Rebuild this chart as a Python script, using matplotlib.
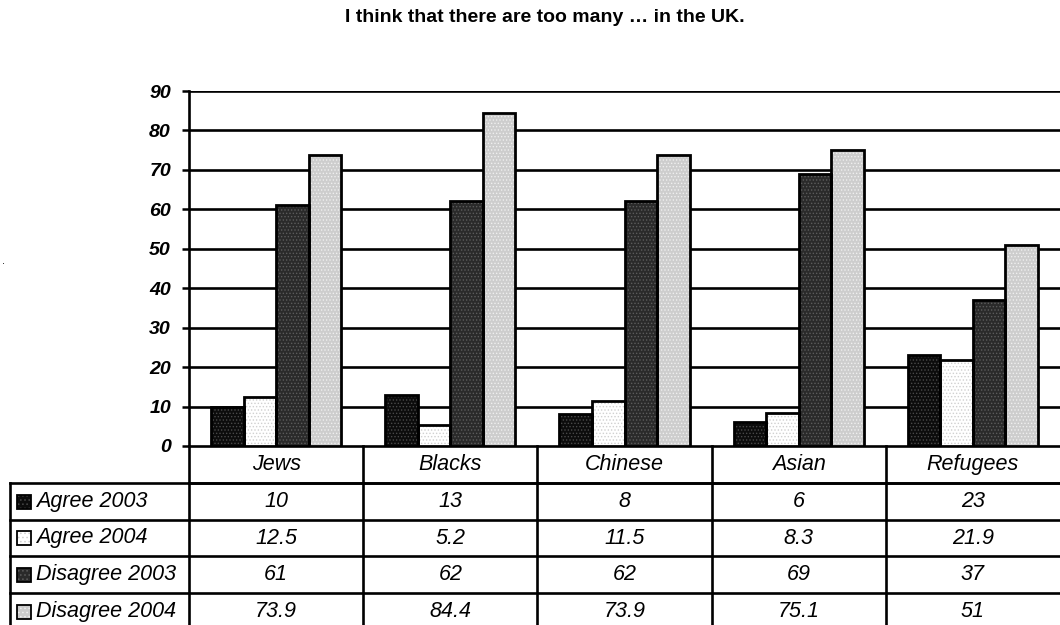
import matplotlib
matplotlib.use("Agg")
import matplotlib.pyplot as plt
from matplotlib.patches import Rectangle
import numpy as np

categories = ["Jews", "Blacks", "Chinese", "Asian", "Refugees"]
series_names = ["Agree 2003", "Agree 2004", "Disagree 2003", "Disagree 2004"]
agree_2003 = [10, 13, 8, 6, 23]
agree_2004 = [12.5, 5.2, 11.5, 8.3, 21.9]
disagree_2003 = [61, 62, 62, 69, 37]
disagree_2004 = [73.9, 84.4, 73.9, 75.1, 51]
y_ticks = [0, 10, 20, 30, 40, 50, 60, 70, 80, 90]

series_values = [agree_2003, agree_2004, disagree_2003, disagree_2004]
# fill colour and dot colour for each screened pattern
face_colors = ["#0c0c0c", "#ffffff", "#2a2a2a", "#cdcdcd"]
dot_colors = ["#4a4a4a", "#d0d0d0", "#5c5c5c", "#efefef"]

plt.rcParams["font.family"] = ["Liberation Sans", "DejaVu Sans"]
plt.rcParams["hatch.linewidth"] = 0.6

W, H = 1060, 625
fig = plt.figure(figsize=(W / 100, H / 100), dpi=100)

# pixel layout of the plotting area
left_px, right_px, top_px, bottom_px = 189, 1060, 91, 446
ax = fig.add_axes([left_px / W, 1 - bottom_px / H,
                   (right_px - left_px) / W, (bottom_px - top_px) / H])

x = np.arange(len(categories))
bw = 0.187
offsets = [-1.5, -0.5, 0.5, 1.5]
for vals, off, fc, dc in zip(series_values, offsets, face_colors, dot_colors):
    ax.bar(x + off * bw, vals, bw, color=fc, edgecolor=dc, hatch=".....",
           linewidth=0, zorder=3)
    ax.bar(x + off * bw, vals, bw, fill=False, edgecolor="black",
           linewidth=2.0, zorder=4)

ax.set_xlim(-0.5, len(categories) - 0.5)
ax.set_ylim(0, 90)
ax.set_yticks(y_ticks)
ax.set_yticklabels([str(t) for t in y_ticks], fontsize=14,
                   fontweight="bold", fontstyle="italic")
ax.set_xticks([])
ax.tick_params(axis="y", length=5, width=1.8, pad=8)
for t in y_ticks[1:]:
    ax.axhline(t, color="black", linewidth=1.9, zorder=2)
ax.spines["right"].set_visible(False)
ax.spines["top"].set_visible(False)
ax.spines["left"].set_linewidth(1.9)
ax.spines["bottom"].set_linewidth(1.9)

fig.text(545 / W, 1 - 18 / H, "I think that there are too many \u2026 in the UK.",
         ha="center", va="center", fontsize=14, fontweight="bold")
fig.text(2 / W, 1 - 266 / H, ".", fontsize=8, ha="left", va="bottom")

# data table under the chart, laid out in figure pixels
tab = fig.add_axes([0, 0, 1, 1])
tab.set_xlim(0, W)
tab.set_ylim(H, 0)
tab.axis("off")

col_w = (right_px - left_px) / len(categories)
row_tops = [446, 483, 520, 556, 593, 630]
lw = 1.9
fs = 15.5

# header row (category names)
for i, cat in enumerate(categories):
    cx = left_px + (i + 0.5) * col_w
    tab.text(cx, (row_tops[0] + row_tops[1]) / 2, cat, ha="center",
             va="center", fontsize=fs, fontstyle="italic")
# horizontal rules
tab.plot([left_px, W], [row_tops[1], row_tops[1]], color="black", lw=lw)
for r in row_tops[1:5]:
    tab.plot([10, W], [r, r], color="black", lw=lw)
# vertical rules
tab.plot([10, 10], [row_tops[1], H], color="black", lw=lw)
for i in range(len(categories)):
    xx = left_px + i * col_w
    tab.plot([xx, xx], [row_tops[0], H], color="black", lw=lw)

for j, (name, vals) in enumerate(zip(series_names, series_values)):
    cy = (row_tops[j + 1] + row_tops[j + 2]) / 2
    tab.add_patch(Rectangle((17, cy - 7), 14, 14, facecolor=face_colors[j],
                            edgecolor=dot_colors[j], hatch="....", lw=0))
    tab.add_patch(Rectangle((17, cy - 7), 14, 14, fill=False,
                            edgecolor="black", lw=1.3))
    tab.text(36, cy, name, ha="left", va="center", fontsize=fs,
             fontstyle="italic")
    for i, v in enumerate(vals):
        cx = left_px + (i + 0.5) * col_w
        tab.text(cx, cy, f"{v:g}", ha="center", va="center", fontsize=fs,
                 fontstyle="italic")

fig.savefig("out.png", dpi=100)
